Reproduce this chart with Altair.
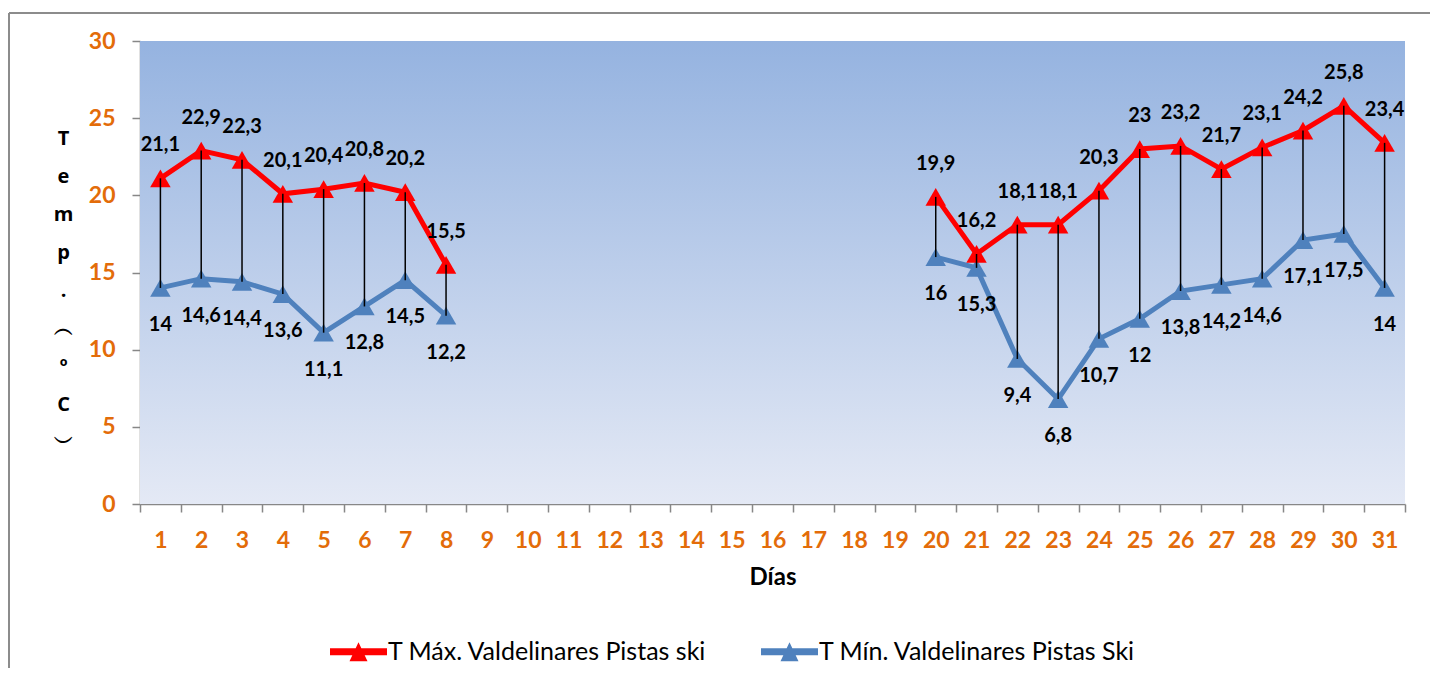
import altair as alt
import pandas as pd

# ---------------- data ----------------
days = list(range(1, 32))
obs_days = [1, 2, 3, 4, 5, 6, 7, 8, 20, 21, 22, 23, 24, 25, 26, 27, 28, 29, 30, 31]
t_max = [21.1, 22.9, 22.3, 20.1, 20.4, 20.8, 20.2, 15.5,
         19.9, 16.2, 18.1, 18.1, 20.3, 23, 23.2, 21.7, 23.1, 24.2, 25.8, 23.4]
t_min = [14, 14.6, 14.4, 13.6, 11.1, 12.8, 14.5, 12.2,
         16, 15.3, 9.4, 6.8, 10.7, 12, 13.8, 14.2, 14.6, 17.1, 17.5, 14]
series_names = ["T Máx. Valdelinares Pistas ski", "T Mín. Valdelinares Pistas Ski"]
series_colors = ["#ff0000", "#4f81bd"]
y_ticks = [0, 5, 10, 15, 20, 25, 30]
x_title = "Días"
y_title = ["T", "e", "m", "p", ".", "︵", "º", "C", "︶"]


def fmt(v):
    return f"{v:g}".replace(".", ",")


# contiguous runs of days -> separate line segments
segs = []
s = 0
for i, d in enumerate(obs_days):
    if i > 0 and d - obs_days[i - 1] > 1:
        s += 1
    segs.append(s)

rows = []
for name, vals in ((series_names[1], t_min), (series_names[0], t_max)):
    for d, v, sg in zip(obs_days, vals, segs):
        rows.append({"day": d, "value": v, "series": name, "seg": f"{name}-{sg}", "label": fmt(v)})
df_long = pd.DataFrame(rows)
df_wide = pd.DataFrame({"day": obs_days, "tmax": t_max, "tmin": t_min,
                        "lmax": [fmt(v) for v in t_max], "lmin": [fmt(v) for v in t_min]})

# ---------------- layout ----------------
W, H = 1265, 463
PAD_R = 25
ORANGE = "#e36c09"
GRAY = "#878787"
FONT = "Lato"

xscale = alt.Scale(type="band", domain=days, paddingInner=0, paddingOuter=0)
yscale = alt.Scale(domain=[0, 30], nice=False, zero=True)

x_axis = alt.Axis(
    title=x_title, tickBand="extent", labelAngle=0,
    labelColor=ORANGE, labelFont=FONT, labelFontSize=23, labelFontWeight="bold",
    labelPadding=17, tickSize=8, tickColor=GRAY, tickWidth=1.5,
    domainColor=GRAY, domainWidth=1.5,
    titleFont=FONT, titleFontSize=24, titleFontWeight="bold", titleColor="black",
    titlePadding=13,
)
y_axis = alt.Axis(
    title=y_title, values=y_ticks, grid=False,
    labelColor=ORANGE, labelFont=FONT, labelFontSize=23, labelFontWeight="bold",
    labelPadding=17, tickSize=8, tickColor=GRAY, tickWidth=1.5,
    domainColor=GRAY, domainWidth=1.5,
    titleAngle=0, titleAlign="center", titleBaseline="top",
    titleX=-77, titleY=87, titleLineHeight=38,
    titleFont="Open Sans", titleFontSize=20, titleFontWeight="bold", titleColor="black",
)

X = alt.X("day:O", scale=xscale, axis=x_axis)
Y = alt.Y("value:Q", scale=yscale, axis=y_axis)

one = pd.DataFrame({"k": [0]})

border_top = alt.Chart(one).mark_rule(color="#8c8c8c", strokeWidth=2).encode(
    x=alt.value(-131), x2=alt.value(W + PAD_R), y=alt.value(-28))
border_left = alt.Chart(one).mark_rule(color="#8c8c8c", strokeWidth=2).encode(
    x=alt.value(-131), y=alt.value(-28), y2=alt.value(H + 200))

bg = alt.Chart(one).mark_rect(
    fill=alt.LinearGradient(
        gradient="linear",
        stops=[alt.GradientStop(color="#95b3e0", offset=0),
               alt.GradientStop(color="#e4e9f5", offset=1)],
        x1=0, x2=0, y1=0, y2=1,
    )
).encode(x=alt.value(0), x2=alt.value(W), y=alt.value(0), y2=alt.value(H))

sym = "M-2.85,-0.35H2.85V0.35H-2.85Z M-0.9,0.95L0,-0.95L0.9,0.95Z"
legend = alt.Legend(
    title=None, orient="none", legendX=206, legendY=598,
    direction="horizontal", symbolType=sym, symbolSize=400,
    symbolStrokeWidth=0, symbolOpacity=1,
    labelFont=FONT, labelFontSize=25, labelColor="black",
    labelOffset=17, columnPadding=54, padding=0, labelLimit=0,
)
cscale = alt.Scale(domain=series_names, range=series_colors)

lines = alt.Chart(df_long).mark_line(strokeWidth=5).encode(
    x=X, y=Y,
    color=alt.Color("series:N", scale=cscale, legend=legend),
    detail="seg:N",
)

points = alt.Chart(df_long).mark_point(shape="triangle-up", filled=True, size=420, opacity=1).encode(
    x=X, y=Y,
    color=alt.Color("series:N", scale=cscale, legend=legend),
)

rules = alt.Chart(df_wide).mark_rule(color="black", strokeWidth=1.5).encode(
    x=X, y=alt.Y("tmax:Q", scale=yscale, axis=y_axis), y2="tmin:Q"
)

lab_max = alt.Chart(df_wide).mark_text(
    font=FONT, fontSize=20, fontWeight="bold", color="black", dy=-33
).encode(x=X, y=alt.Y("tmax:Q", scale=yscale, axis=y_axis), text="lmax:N")

lab_min = alt.Chart(df_wide).mark_text(
    font=FONT, fontSize=20, fontWeight="bold", color="black", dy=37
).encode(x=X, y=alt.Y("tmin:Q", scale=yscale, axis=y_axis), text="lmin:N")

chart = alt.layer(border_top, border_left, bg, lines, points, rules, lab_max, lab_min).properties(
    width=W, height=H,
    autosize=alt.AutoSizeParams(type="none"),
    padding={"left": 132, "top": 33, "right": PAD_R, "bottom": 164},
).configure_view(strokeWidth=0)

chart.save("out.html", embed_options={"renderer": "svg", "actions": False})
